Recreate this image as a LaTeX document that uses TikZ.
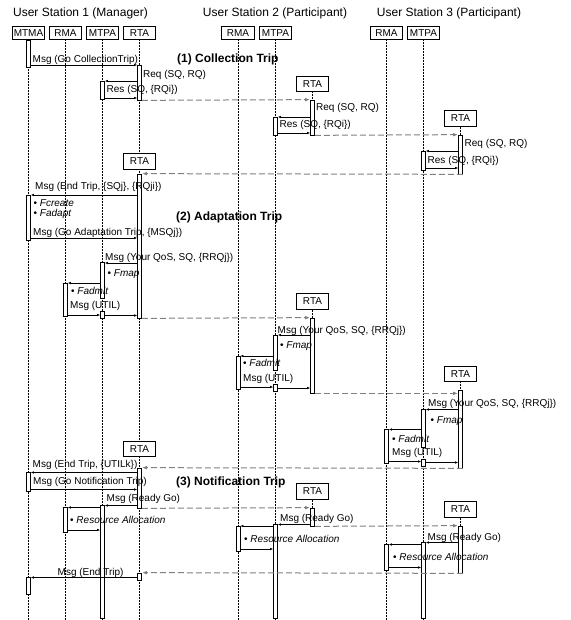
\documentclass[tikz,border=0pt]{standalone}
\usepackage{fontspec}
\setmainfont{Liberation Sans}
\usetikzlibrary{arrows.meta}

\begin{document}
\begin{tikzpicture}[x=1pt,y=-1pt,
    agent/.style={draw,line width=0.7pt,fill=white,minimum width=32.5pt,minimum height=13.5pt,inner sep=1pt,font=\fontsize{10}{12}\selectfont},
    rtabox/.style={agent,minimum height=15.5pt},
    lane/.style={densely dotted,line width=0.5pt},
    bar/.style={draw,line width=0.7pt,fill=white,minimum width=4pt,inner sep=0pt},
    msg/.style={line width=0.6pt,-{Latex[length=3pt,width=2.6pt]}},
    hop/.style={black!50,line width=1pt,dash pattern=on 6pt off 3pt,-{Latex[length=5pt,width=3.6pt]}},
    lbl/.style={anchor=base west,inner sep=0pt,font=\fontsize{10}{12}\selectfont},
    trip/.style={anchor=base west,inner sep=0pt,font=\fontsize{12}{14}\selectfont\bfseries},
    station/.style={inner sep=0pt,font=\fontsize{12}{14}\selectfont}]
    \useasboundingbox (0,0) rectangle (570,620);
    \coordinate (bottom) at (0,620);

    % Draw the stations and their agents
    \node[station] (st1) at (80.5,13) {User Station 1 (Manager)};
    \node[station] (st2) at (275,13) {User Station 2 (Participant)};
    \node[station] (st3) at (449,13) {User Station 3 (Participant)};
    \node[agent] (mtma) at (28.5,33) {MTMA};
    \node[agent] (rma) at (65.5,33) {RMA};
    \node[agent] (mtpa) at (102.5,33) {MTPA};
    \node[agent] (rta) at (139.5,33) {RTA};
    \node[agent] (rma2) at (238,33) {RMA};
    \node[agent] (mtpa2) at (275.5,33) {MTPA};
    \node[agent] (rma3) at (386.5,33) {RMA};
    \node[agent] (mtpa3) at (423.5,33) {MTPA};

    % Draw the lifelines
    \draw[lane] (mtma.south) -- (mtma |- bottom);
    \draw[lane] (rma.south) -- (rma |- bottom);
    \draw[lane] (mtpa.south) -- (mtpa |- bottom);
    \draw[lane] (rta.south) -- (rta |- bottom);
    \draw[lane] (rma2.south) -- (rma2 |- bottom);
    \draw[lane] (mtpa2.south) -- (mtpa2 |- bottom);
    \draw[lane] (rma3.south) -- (rma3 |- bottom);
    \draw[lane] (mtpa3.south) -- (mtpa3 |- bottom);

    % Draw the travelling RTA
    \node[rtabox] (rtaboxB) at (139.5,161.5) {RTA};
    \node[rtabox] (rtaboxC) at (139.5,449) {RTA};
    \node[rtabox] (rta2boxA) at (312.5,84) {RTA};
    \node[rtabox] (rta2boxB) at (312.5,301.5) {RTA};
    \node[rtabox] (rta2boxC) at (312.5,491.5) {RTA};
    \node[rtabox] (rta3boxA) at (460.5,118.5) {RTA};
    \node[rtabox] (rta3boxB) at (460.5,374) {RTA};
    \node[rtabox] (rta3boxC) at (460.5,509.5) {RTA};

    % Draw the activations of station 1
    \node[bar,minimum height=27pt] (mtmaA) at (28.5,53.5) {};
    \node[bar,minimum height=35pt] (rtaA) at (139.5,82.5) {};
    \node[bar,minimum height=18pt] (mtpaA) at (102.5,90) {};
    \node[bar,minimum height=144pt] (rtaB) at (139.5,246) {};
    \node[bar,minimum height=45pt] (mtmaB) at (28.5,217.5) {};
    \node[bar,minimum height=36pt] (mtpaB) at (102.5,280.5) {};
    \node[bar,minimum height=33pt] (rmaA) at (65.5,299.5) {};
    \node[bar,minimum height=7pt] (mtpaC) at (102.5,314.5) {};
    \node[bar,minimum height=40pt] (rtaC) at (139.5,488) {};
    \node[bar,minimum height=19pt] (mtmaC) at (28.5,481.5) {};
    \node[bar,minimum height=113pt] (mtpaD) at (102.5,561.5) {};
    \node[bar,minimum height=25pt] (rmaB) at (65.5,520) {};
    \node[bar,minimum height=7pt] (rtaD) at (139.5,576.5) {};
    \node[bar,minimum height=17pt] (mtmaD) at (28.5,585.5) {};

    % Draw the activations of station 2
    \node[bar,minimum height=35pt] (rta2A) at (312.5,117.5) {};
    \node[bar,minimum height=18pt] (mtpa2A) at (275.5,126) {};
    \node[bar,minimum height=75pt] (rta2B) at (312.5,355.5) {};
    \node[bar,minimum height=35pt] (mtpa2B) at (275.5,352.5) {};
    \node[bar,minimum height=33pt] (rma2A) at (238,372.5) {};
    \node[bar,minimum height=7pt] (mtpa2C) at (275.5,387.5) {};
    \node[bar,minimum height=18pt] (rta2C) at (312.5,517) {};
    \node[bar,minimum height=94pt] (mtpa2D) at (275.5,571) {};
    \node[bar,minimum height=25pt] (rma2B) at (238,538.5) {};

    % Draw the activations of station 3
    \node[bar,minimum height=39pt] (rta3A) at (460.5,154.5) {};
    \node[bar,minimum height=19pt] (mtpa3A) at (423.5,160.5) {};
    \node[bar,minimum height=78pt] (rta3B) at (460.5,429) {};
    \node[bar,minimum height=38pt] (mtpa3B) at (423.5,428) {};
    \node[bar,minimum height=34pt] (rma3A) at (386.5,446) {};
    \node[bar,minimum height=7pt] (mtpa3C) at (423.5,462.5) {};
    \node[bar,minimum height=47pt] (rta3C) at (460.5,549.5) {};
    \node[bar,minimum height=76pt] (mtpa3D) at (423.5,580) {};
    \node[bar,minimum height=26pt] (rma3B) at (386.5,557) {};

    \draw[lane] (rta2boxA.south) -- (rta2A.north);
    \draw[lane] (rta2boxB.south) -- (rta2B.north);
    \draw[lane] (rta2boxC.south) -- (rta2C.north);
    \draw[lane] (rta3boxA.south) -- (rta3A.north);
    \draw[lane] (rta3boxB.south) -- (rta3B.north);
    \draw[lane] (rta3boxC.south) -- (rta3C.north);

    % Draw the RTA hops
    \draw[hop] (rtaA.south east) -- (rta2A.north west);
    \draw[hop] (rta2A.south east) -- (rta3A.north west);
    \draw[hop] (rta3A.south east) -- (rtaB.north east);
    \draw[hop] (rtaB.south east) -- (rta2B.north west);
    \draw[hop] (rta2B.south east) -- (rta2B.south east -| rta3B.west);
    \draw[hop] (rta3B.south east) -- (rtaC.north east);
    \draw[hop] (rtaC.south east) -- (rta2C.north west);
    \draw[hop] (rta2C.south east) -- (rta3C.north west);
    \draw[hop] (rta3C.south east) -- (rtaD.north east);

    % Draw the collection trip
    \draw[msg] (mtmaA.east |- 0,65) -- (rtaA.west |- 0,65);
    \draw[msg] (rtaA.west |- 0,81) -- (mtpaA.east |- 0,81);
    \draw[msg] (mtpaA.east |- 0,98) -- (rtaA.west |- 0,98);
    \draw[msg] (rta2A.west |- 0,117) -- (mtpa2A.east |- 0,117);
    \draw[msg] (mtpa2A.east |- 0,133) -- (rta2A.west |- 0,133);
    \draw[msg] (rta3A.west |- 0,151) -- (mtpa3A.east |- 0,151);
    \draw[msg] (mtpa3A.east |- 0,168) -- (rta3A.west |- 0,168);

    % Draw the adaptation trip
    \draw[msg] (rtaB.west |- 0,195) -- (mtmaB.east |- 0,195);
    \draw[msg] (mtmaB.east |- 0,238) -- (rtaB.west |- 0,238);
    \draw[msg] (rtaB.west |- 0,263) -- (mtpaB.east |- 0,263);
    \draw[msg] (mtpaB.west |- 0,283) -- (rmaA.east |- 0,283);
    \draw[msg] (rmaA.east |- 0,315) -- (mtpaC.west |- 0,315);
    \draw[msg] (mtpaC.east |- 0,315.5) -- (rtaB.west |- 0,315.5);
    \draw[msg] (rta2B.west |- 0,335) -- (mtpa2B.east |- 0,335);
    \draw[msg] (mtpa2B.west |- 0,356) -- (rma2A.east |- 0,356);
    \draw[msg] (rma2A.east |- 0,387) -- (mtpa2C.west |- 0,387);
    \draw[msg] (mtpa2C.east |- 0,388) -- (rta2B.west |- 0,388);
    \draw[msg] (rta3B.west |- 0,409.5) -- (mtpa3B.east |- 0,409.5);
    \draw[msg] (mtpa3B.west |- 0,429.5) -- (rma3A.east |- 0,429.5);
    \draw[msg] (rma3A.east |- 0,461.5) -- (mtpa3C.west |- 0,461.5);
    \draw[msg] (mtpa3C.east |- 0,462.5) -- (rta3B.west |- 0,462.5);

    % Draw the notification trip
    \draw[msg] (rtaC.west |- 0,472.5) -- (mtmaC.east |- 0,472.5);
    \draw[msg] (mtmaC.east |- 0,489.5) -- (rtaC.west |- 0,489.5);
    \draw[msg] (rtaC.west |- 0,505.5) -- (mtpaD.east |- 0,505.5);
    \draw[msg] (mtpaD.west |- 0,507.5) -- (rmaB.east |- 0,507.5);
    \draw[msg] (rmaB.east |- 0,530) -- (mtpaD.west |- 0,530);
    \draw[msg] (rta2C.west |- 0,524.5) -- (mtpa2D.east |- 0,524.5);
    \draw[msg] (mtpa2D.west |- 0,526) -- (rma2B.east |- 0,526);
    \draw[msg] (rma2B.east |- 0,549) -- (mtpa2D.west |- 0,549);
    \draw[msg] (rta3C.west |- 0,542.5) -- (mtpa3D.east |- 0,542.5);
    \draw[msg] (mtpa3D.west |- 0,544.5) -- (rma3B.east |- 0,544.5);
    \draw[msg] (rma3B.east |- 0,567.5) -- (mtpa3D.west |- 0,567.5);
    \draw[msg] (rtaD.west |- 0,577.5) -- (mtmaD.east |- 0,577.5);

    % Draw the trip titles
    \node[trip] (trip1) at (177,62.5) {(1) Collection Trip};
    \node[trip] (trip2) at (176,220) {(2) Adaptation Trip};
    \node[trip] (trip3) at (176,485) {(3) Notification Trip};

    % Draw the message labels
    \node[lbl] (lGoColl) at (32.5,62.5) {Msg (Go CollectionTrip)};
    \node[lbl] (lReq1) at (143,77.5) {Req (SQ, RQ)};
    \node[lbl] (lRes1) at (106.5,92.5) {Res (SQ, \{RQi\})};
    \node[lbl] (lReq2) at (316,110.5) {Req (SQ, RQ)};
    \node[lbl] (lRes2) at (279.5,127.5) {Res (SQ, \{RQi\})};
    \node[lbl] (lReq3) at (464.5,146.5) {Req (SQ, RQ)};
    \node[lbl] (lRes3) at (427.5,163.5) {Res (SQ, \{RQi\})};
    \node[lbl] (lEnd1) at (35,190) {Msg (End Trip, \{SQj\}, \{RQji\})};
    \node[lbl] (lCreate) at (33.5,207) {• \textit{Fcreate}};
    \node[lbl] (lAdapt) at (33.5,217) {• \textit{Fadapt}};
    \node[lbl] (lGoAdapt) at (33,235) {Msg (Go Adaptation Trip, \{MSQj\})};
    \node[lbl] (lQos1) at (105,260) {Msg (Your QoS, SQ, \{RRQj\})};
    \node[lbl] (lMap1) at (107.5,276) {• \textit{Fmap}};
    \node[lbl] (lAdmit1) at (71,294.5) {• \textit{Fadmit}};
    \node[lbl] (lUtil1) at (70,308.5) {Msg (UTIL)};
    \node[lbl] (lQos2) at (277.5,333) {Msg (Your QoS, SQ, \{RRQj\})};
    \node[lbl] (lMap2) at (280,348.5) {• \textit{Fmap}};
    \node[lbl] (lAdmit2) at (243,366) {• \textit{Fadmit}};
    \node[lbl] (lUtil2) at (243,381) {Msg (UTIL)};
    \node[lbl] (lQos3) at (428,406) {Msg (Your QoS, SQ, \{RRQj\})};
    \node[lbl] (lMap3) at (430.5,423.5) {• \textit{Fmap}};
    \node[lbl] (lAdmit3) at (392,442) {• \textit{Fadmit}};
    \node[lbl] (lUtil3) at (392,455) {Msg (UTIL)};
    \node[lbl] (lEnd2) at (32.5,467.5) {Msg (End Trip, \{UTILk\})};
    \node[lbl] (lGoNote) at (33,484) {Msg (Go Notification Trip)};
    \node[lbl] (lReady1) at (106.5,501) {Msg (Ready Go)};
    \node[lbl] (lAlloc1) at (70,523) {• \textit{Resource Allocation}};
    \node[lbl] (lReady2) at (280,521) {Msg (Ready Go)};
    \node[lbl] (lAlloc2) at (244,542) {• \textit{Resource Allocation}};
    \node[lbl] (lReady3) at (427.5,540) {Msg (Ready Go)};
    \node[lbl] (lAlloc3) at (393,560) {• \textit{Resource Allocation}};
    \node[lbl] (lEnd3) at (57.5,575) {Msg (End Trip)};
\end{tikzpicture}
\end{document}
